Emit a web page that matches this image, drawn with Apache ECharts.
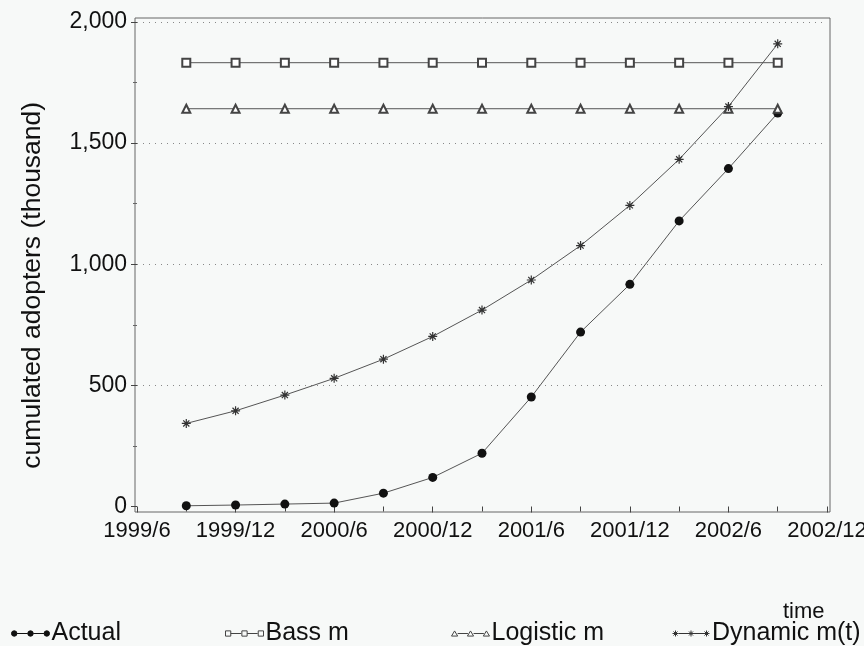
<!DOCTYPE html>
<html>
<head>
<meta charset="utf-8">
<title>Cumulated adopters</title>
<script src="https://cdn.jsdelivr.net/npm/echarts@6/dist/echarts.min.js"></script>
<style>
  html, body { margin: 0; padding: 0; background: #f7f9f8; }
  #chart { width: 864px; height: 646px; }
</style>
</head>
<body>
<div id="chart"></div>
<script>
// Quarter index counted from 1999/6 (0) to 2002/12 (14)
const quarterIndex = [1, 2, 3, 4, 5, 6, 7, 8, 9, 10, 11, 12, 13];
const xTickLabels = ['1999/6', '1999/12', '2000/6', '2000/12', '2001/6', '2001/12', '2002/6', '2002/12'];

// Cumulated adopters (thousand)
const actual    = [3, 6, 10, 14, 55, 120, 220, 452, 720, 917, 1179, 1395, 1624];
const bassM     = [1832, 1832, 1832, 1832, 1832, 1832, 1832, 1832, 1832, 1832, 1832, 1832, 1832];
const logisticM = [1642, 1642, 1642, 1642, 1642, 1642, 1642, 1642, 1642, 1642, 1642, 1642, 1642];
const dynamicM  = [343, 395, 460, 529, 608, 702, 811, 935, 1077, 1243, 1433, 1651, 1910];

const seriesNames = ['Actual', 'Bass m', 'Logistic m', 'Dynamic m(t)'];

const FONT = '"Liberation Sans", Arial, sans-serif';
const INK = '#111';
const LINE = '#555';

const pairs = (ys) => quarterIndex.map((x, i) => [x, ys[i]]);

const starPath = 'path://M5,0L5,10M0,5L10,5M1.6,1.6L8.4,8.4M8.4,1.6L1.6,8.4';

// legend icons: three small markers joined by a line (drawn in a 38x6 box)
const iconActual = 'path://M1.5,3a2.5,2.5 0 1,0 5,0a2.5,2.5 0 1,0 -5,0M6.5,3L16.5,3M16.5,3a2.5,2.5 0 1,0 5,0a2.5,2.5 0 1,0 -5,0M21.5,3L31.5,3M31.5,3a2.5,2.5 0 1,0 5,0a2.5,2.5 0 1,0 -5,0';
const iconBass = 'path://M1,0.5h5v5h-5zM6,3h10M16.5,0.5h5v5h-5zM21.5,3h10M32,0.5h5v5h-5z';
const iconLogistic = 'path://M3.5,0.5L6.5,5.5L0.5,5.5ZM6.5,3h10M19,0.5L22,5.5L16,5.5ZM22,3h10M34.5,0.5L37.5,5.5L31.5,5.5Z';
const iconDynamic = 'path://M3.5,0V6M0.5,3H6.5M1.5,1L5.5,5M5.5,1L1.5,5M6.5,3h10M19,0V6M16,3H22M17,1L21,5M21,1L17,5M22,3h10M34.5,0V6M31.5,3H37.5M32.5,1L36.5,5M36.5,1L32.5,5';

function legendAt(left, name, icon, itemStyle) {
  return {
    left: left, top: 616,
    orient: 'horizontal',
    itemWidth: 38, itemHeight: 6,
    itemGap: 0,
    selectedMode: false,
    textStyle: { fontFamily: FONT, fontSize: 25, color: INK, padding: [0, 0, 0, -3] },
    data: [{ name: name, icon: icon, itemStyle: itemStyle }]
  };
}

const chart = echarts.init(document.getElementById('chart'));

chart.setOption({
  backgroundColor: '#f7f9f8',
  animation: false,
  textStyle: { fontFamily: FONT },
  title: {
    text: 'time',
    left: 778, top: 596,
    textStyle: { fontFamily: FONT, fontSize: 22, fontWeight: 'normal', color: INK }
  },
  legend: [
    legendAt(6, seriesNames[0], iconActual, { color: INK, borderColor: INK, borderWidth: 1 }),
    legendAt(220, seriesNames[1], iconBass, { color: 'transparent', borderColor: '#444', borderWidth: 1 }),
    legendAt(446, seriesNames[2], iconLogistic, { color: 'transparent', borderColor: '#444', borderWidth: 1 }),
    legendAt(667, seriesNames[3], iconDynamic, { color: 'transparent', borderColor: '#333', borderWidth: 1 })
  ],
  grid: [
    // data area: 0 .. 2000 on the value axis, 1999/6 .. 2002/12 on the time axis
    { left: 137, right: 37, top: 22, bottom: 139.5, containLabel: false, outerBoundsMode: 'none' },
    // plot frame, a little larger than the data range
    { left: 135, right: 34, top: 18, bottom: 134, show: true, borderColor: '#666', borderWidth: 1,
      backgroundColor: 'transparent', outerBoundsMode: 'none' }
  ],
  xAxis: [
    {
      gridIndex: 0,
      type: 'value',
      min: 0, max: 14, interval: 2,
      offset: 6,
      axisLine: { show: false },
      axisTick: { show: true, length: 6, lineStyle: { color: '#444', width: 1 } },
      minorTick: { show: true, splitNumber: 2, length: 5, lineStyle: { color: '#444', width: 1 } },
      splitLine: { show: false },
      axisLabel: {
        margin: 7,
        fontFamily: FONT, fontSize: 22, color: INK,
        formatter: (v) => xTickLabels[Math.round(v / 2)] || ''
      }
    },
    { gridIndex: 1, type: 'value', min: 0, max: 1, show: false }
  ],
  yAxis: [
    {
      gridIndex: 0,
      type: 'value',
      min: 0, max: 2000, interval: 500,
      offset: 2,
      name: 'cumulated adopters (thousand)',
      nameLocation: 'middle',
      nameRotate: 90,
      nameGap: 89,
      nameTextStyle: { fontFamily: FONT, fontSize: 26.5, color: INK, padding: [0, 42, 0, 0] },
      axisLine: { show: false },
      axisTick: { show: true, length: 6, lineStyle: { color: '#444', width: 1 } },
      minorTick: { show: true, splitNumber: 2, length: 4, lineStyle: { color: '#666', width: 1 } },
      splitLine: {
        show: true, showMinLine: false,
        lineStyle: { type: [1, 5], color: '#888', width: 1 }
      },
      axisLabel: {
        margin: 8,
        fontFamily: FONT, fontSize: 23, color: INK,
        formatter: (v) => String(v).replace(/\B(?=(\d{3})+(?!\d))/g, ',')
      }
    },
    { gridIndex: 1, type: 'value', min: 0, max: 1, show: false }
  ],
  series: [
    {
      name: seriesNames[0], type: 'line',
      data: pairs(actual),
      symbol: 'circle', symbolSize: 9,
      itemStyle: { color: INK },
      lineStyle: { color: LINE, width: 1 }
    },
    {
      name: seriesNames[1], type: 'line',
      data: pairs(bassM),
      symbol: 'emptyRect', symbolSize: 8,
      itemStyle: { color: '#444', borderWidth: 1 },
      lineStyle: { color: LINE, width: 1 }
    },
    {
      name: seriesNames[2], type: 'line',
      data: pairs(logisticM),
      symbol: 'emptyTriangle', symbolSize: 8,
      itemStyle: { color: '#444', borderWidth: 1 },
      lineStyle: { color: LINE, width: 1 }
    },
    {
      name: seriesNames[3], type: 'line',
      data: pairs(dynamicM),
      symbol: starPath, symbolSize: 9,
      itemStyle: { color: '#333', borderColor: '#333', borderWidth: 1.2 },
      lineStyle: { color: LINE, width: 1 }
    }
  ]
});
</script>
</body>
</html>
